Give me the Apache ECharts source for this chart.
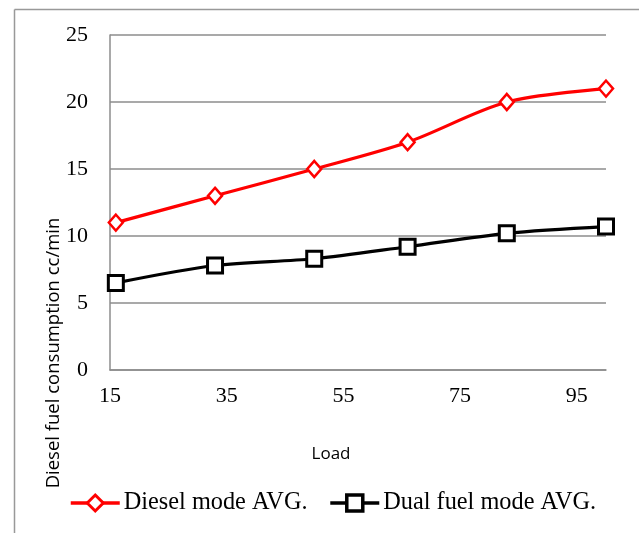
<!DOCTYPE html>
<html>
<head>
<meta charset="utf-8">
<script src="https://cdn.jsdelivr.net/npm/echarts@6/dist/echarts.min.js"></script>
<style>
  html, body { margin: 0; padding: 0; background: #fff; }
  #chart { width: 639px; height: 533px; }
</style>
</head>
<body>
<div id="chart"></div>
<script>
// Engine load (%) for each measurement
var loads = [16, 33, 50, 66, 83, 100];
// Diesel fuel consumption, cc/min
var dieselMode = [11, 13, 15, 17, 20, 21];
var dualFuelMode = [6.5, 7.8, 8.3, 9.2, 10.2, 10.7];
// Axis tick labels
var xTicks = [15, 35, 55, 75, 95];
var seriesNames = ['Diesel mode AVG.', 'Dual fuel mode AVG.'];
var yTitle = 'Diesel fuel consumption cc/min';
var xTitle = 'Load';

function pairs(xs, ys) {
  return xs.map(function (x, i) { return [x, ys[i]]; });
}

var serif = '"Liberation Serif", "Times New Roman", serif';
var sans = '"Open Sans", "Noto Sans", sans-serif';
var gridGray = '#8c8c8c';

var chart = echarts.init(document.getElementById('chart'), null, { renderer: 'canvas' });

chart.setOption({
  animation: false,
  backgroundColor: '#ffffff',
  grid: { left: 110, top: 35, right: 33, bottom: 163, containLabel: false },
  xAxis: {
    type: 'value',
    min: 15,
    max: 100,
    name: xTitle,
    nameLocation: 'middle',
    nameGap: 76,
    nameTextStyle: { fontFamily: sans, fontSize: 17, color: '#000', padding: [0, 54, 0, 0] },
    axisLine: { show: true, lineStyle: { color: gridGray, width: 1.5 } },
    axisTick: { show: false },
    splitLine: { show: false },
    axisLabel: {
      customValues: xTicks,
      fontFamily: serif,
      fontSize: 22,
      color: '#000',
      margin: 15
    }
  },
  yAxis: {
    type: 'value',
    min: 0,
    max: 25,
    interval: 5,
    axisLine: { show: true, lineStyle: { color: gridGray, width: 1.5 } },
    axisTick: { show: false },
    splitLine: { show: true, lineStyle: { color: gridGray, width: 1.5 } },
    axisLabel: { fontFamily: serif, fontSize: 22, color: '#000', margin: 22 }
  },
  legend: {
    left: 69,
    top: 491,
    padding: 0,
    itemWidth: 49,
    itemHeight: 20,
    itemGap: 21,
    lineStyle: { width: 3.5 },
    itemStyle: { borderWidth: 3 },
    textStyle: { fontFamily: serif, fontSize: 24.3, color: '#000', padding: [0, 0, 0, -1] },
    data: [
      {
        name: seriesNames[0],
        lineStyle: { color: '#ff0000', width: 3.5 },
        itemStyle: { color: '#ffffff', borderColor: '#ff0000', borderWidth: 3 }
      },
      {
        name: seriesNames[1],
        lineStyle: { color: '#000000', width: 3.5 },
        itemStyle: { color: '#ffffff', borderColor: '#000000', borderWidth: 3.5 }
      }
    ]
  },
  graphic: [
    // outer frame (left and top edges)
    { type: 'line', shape: { x1: 14.5, y1: 9.5, x2: 14.5, y2: 533 }, style: { stroke: '#999', lineWidth: 1.5 } },
    { type: 'line', shape: { x1: 14.5, y1: 9.5, x2: 639, y2: 9.5 }, style: { stroke: '#999', lineWidth: 1.5 } },
    {
      type: 'text',
      x: 54,
      y: 353,
      rotation: Math.PI / 2,
      style: {
        text: yTitle,
        font: '18.5px ' + sans,
        fill: '#000',
        align: 'center',
        verticalAlign: 'middle'
      }
    }
  ],
  series: [
    {
      name: seriesNames[0],
      type: 'line',
      data: pairs(loads, dieselMode),
      smooth: 0.3,
      symbol: 'diamond',
      symbolSize: [14, 16],
      lineStyle: { color: '#ff0000', width: 3.2 },
      itemStyle: { color: '#ffffff', borderColor: '#ff0000', borderWidth: 2.5 }
    },
    {
      name: seriesNames[1],
      type: 'line',
      data: pairs(loads, dualFuelMode),
      smooth: 0.3,
      symbol: 'rect',
      symbolSize: 15,
      lineStyle: { color: '#000000', width: 3.2 },
      itemStyle: { color: '#ffffff', borderColor: '#000000', borderWidth: 3 }
    }
  ]
});
</script>
</body>
</html>
